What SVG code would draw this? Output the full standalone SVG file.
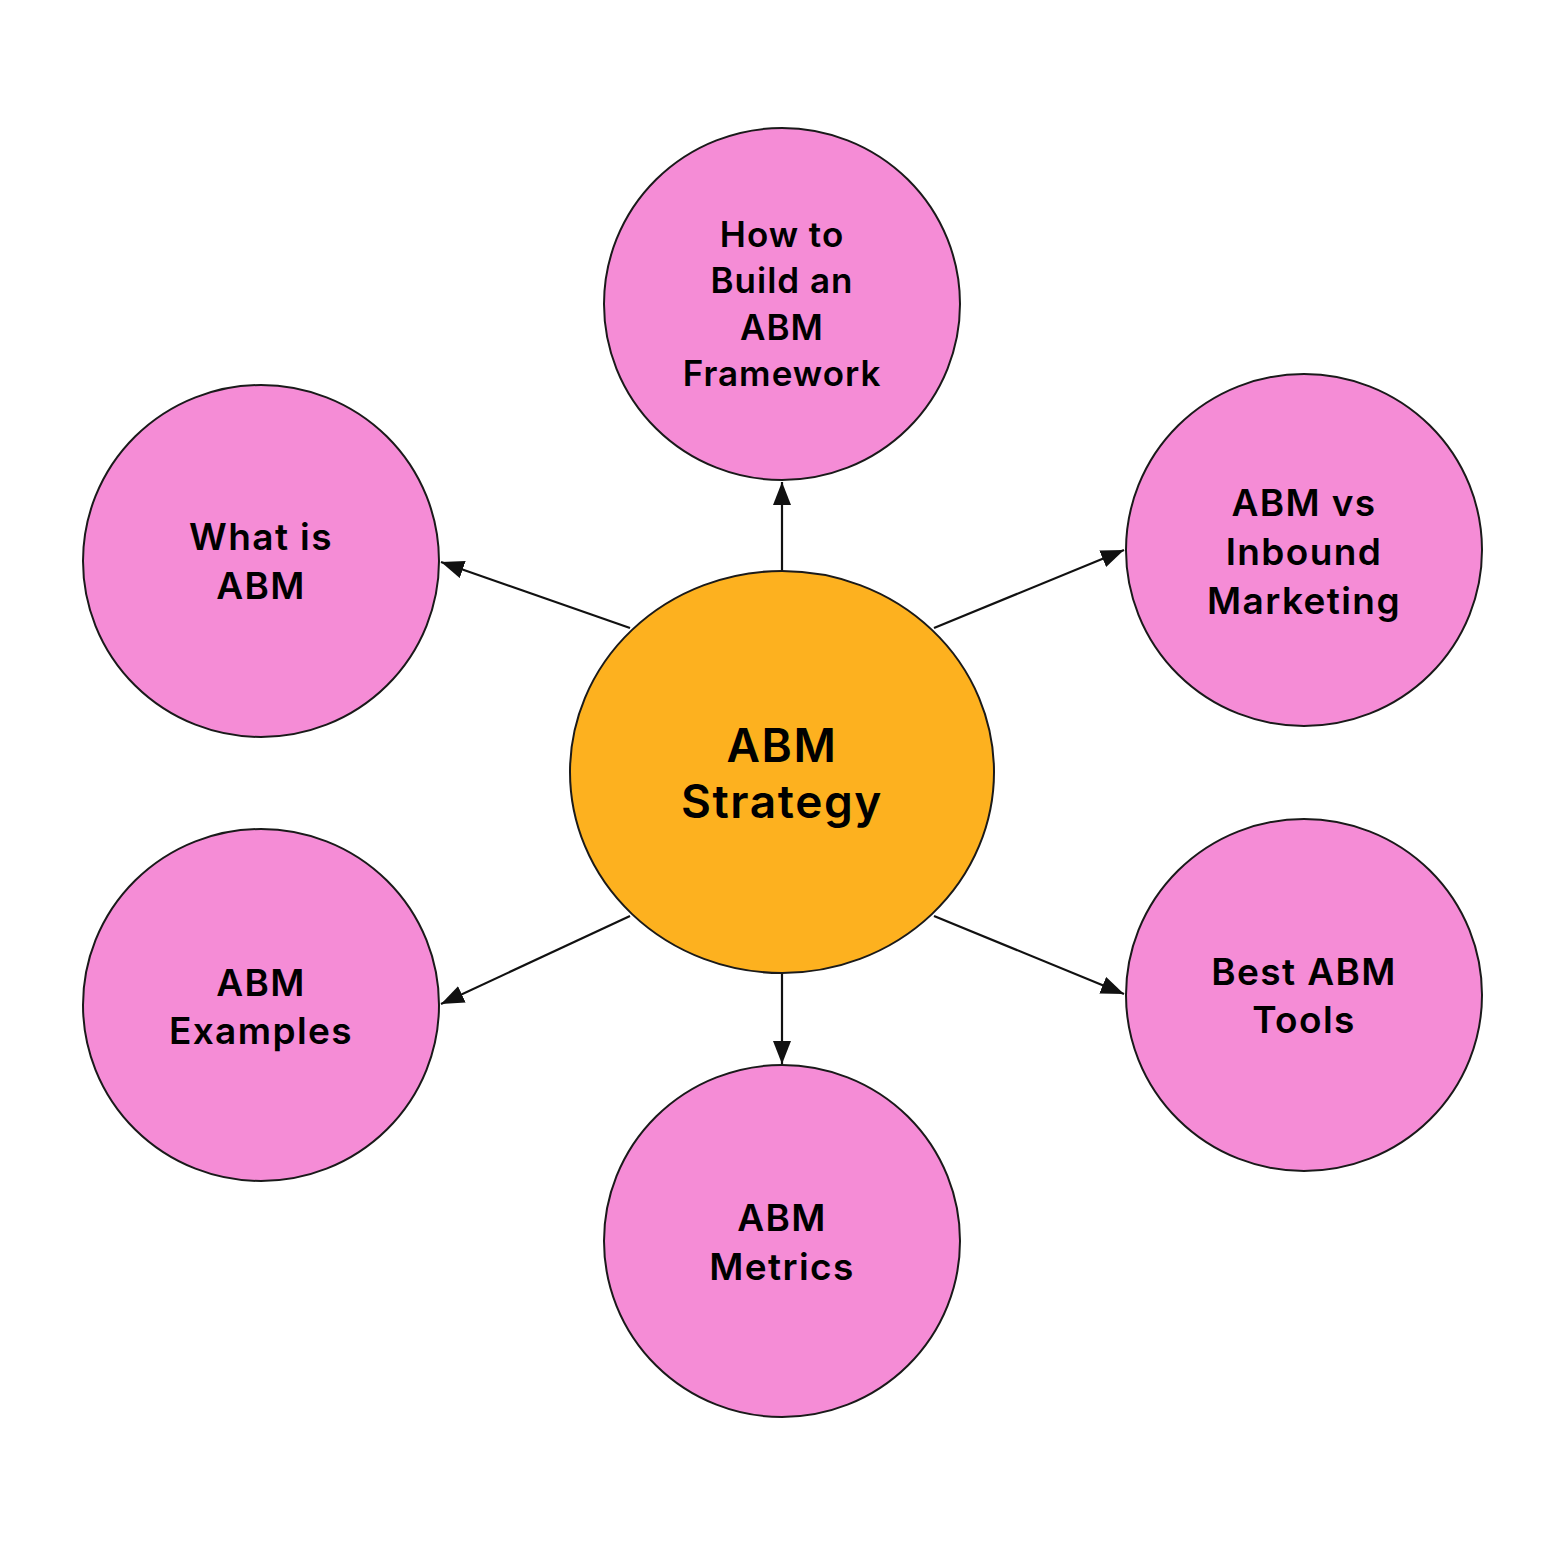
<svg xmlns="http://www.w3.org/2000/svg" width="1563" height="1563" viewBox="0 0 1563 1563">
<defs>
<style>
.sat{fill:#F58CD6;stroke:#1a1a1a;stroke-width:2}
.hub{fill:#FDB11F;stroke:#1a1a1a;stroke-width:2}
.t{font-family:Inter,"Noto Sans","Liberation Sans",sans-serif;font-weight:600;fill:#000;text-anchor:middle}
.s34{font-size:35px;letter-spacing:1px}
.s36{font-size:37px;letter-spacing:1.4px}
.s45{font-size:46px;letter-spacing:1.6px}
.conn line{stroke:#111;stroke-width:2.2;marker-end:url(#arr)}
</style>
<marker id="arr" markerUnits="userSpaceOnUse" markerWidth="24" markerHeight="20" refX="23" refY="9" orient="auto">
<path d="M0,0 L23,9 L0,18 Z" fill="#111"/>
</marker>
</defs>
<rect width="1563" height="1563" fill="#fff"/>
<g id="connectors" class="conn">
<line x1="782" y1="571" x2="782" y2="482"/>
<line x1="630" y1="628" x2="441" y2="562"/>
<line x1="934" y1="628" x2="1124" y2="550"/>
<line x1="630" y1="916" x2="441" y2="1004"/>
<line x1="934" y1="916" x2="1124" y2="994"/>
<line x1="782" y1="973" x2="782" y2="1064"/>
</g>
<g id="hub">
<ellipse class="hub" cx="782" cy="772" rx="212" ry="201"/>
<text class="t s45" x="782" y="762">ABM</text>
<text class="t s45" x="782" y="818">Strategy</text>
</g>
<g id="framework">
<ellipse class="sat" cx="782" cy="304" rx="178" ry="176"/>
<text class="t s34" x="782" y="247">How to</text>
<text class="t s34" x="782" y="293">Build an</text>
<text class="t s34" x="782" y="340">ABM</text>
<text class="t s34" x="782" y="386">Framework</text>
</g>
<g id="what-is">
<ellipse class="sat" cx="261" cy="561" rx="178" ry="176"/>
<text class="t s36" x="261" y="550">What is</text>
<text class="t s36" x="261" y="599">ABM</text>
</g>
<g id="vs-inbound">
<ellipse class="sat" cx="1304" cy="550" rx="178" ry="176"/>
<text class="t s36" x="1304" y="516">ABM vs</text>
<text class="t s36" x="1304" y="565">Inbound</text>
<text class="t s36" x="1304" y="614">Marketing</text>
</g>
<g id="examples">
<ellipse class="sat" cx="261" cy="1005" rx="178" ry="176"/>
<text class="t s36" x="261" y="996">ABM</text>
<text class="t s36" x="261" y="1044">Examples</text>
</g>
<g id="tools">
<ellipse class="sat" cx="1304" cy="995" rx="178" ry="176"/>
<text class="t s36" x="1304" y="985">Best ABM</text>
<text class="t s36" x="1304" y="1033">Tools</text>
</g>
<g id="metrics">
<ellipse class="sat" cx="782" cy="1241" rx="178" ry="176"/>
<text class="t s36" x="782" y="1231">ABM</text>
<text class="t s36" x="782" y="1280">Metrics</text>
</g>
</svg>
